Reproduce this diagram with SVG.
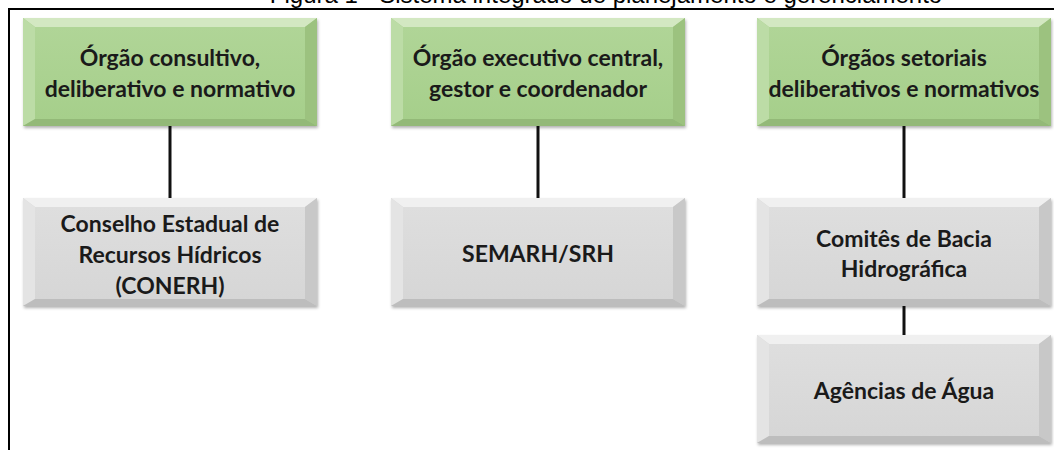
<svg xmlns="http://www.w3.org/2000/svg" xmlns:xlink="http://www.w3.org/1999/xlink" width="1054" height="450" viewBox="0 0 1054 450">
  <defs>
    <style>
      .lbl { font-family: Lato, "Open Sans", "Liberation Sans", sans-serif; font-weight: bold; font-size: 23px; fill: #1a1a1a; text-anchor: middle; dominant-baseline: central; }
      .title { font-family: "Liberation Sans", Arial, sans-serif; font-size: 24px; fill: #000; text-anchor: middle; }
      .conn { stroke: #111; stroke-width: 3; fill: none; }
      .frame { stroke: #000; stroke-width: 2; fill: none; }
    </style>
    <filter id="sh" x="-5%" y="-5%" width="112%" height="120%">
      <feDropShadow dx="1" dy="2" stdDeviation="1.5" flood-color="#000" flood-opacity="0.3"/>
    </filter>
    <linearGradient id="gg" x1="0" y1="0" x2="0" y2="1">
      <stop offset="0" stop-color="#b0d597"/>
      <stop offset="1" stop-color="#a6cf8b"/>
    </linearGradient>
    <linearGradient id="gy" x1="0" y1="0" x2="0" y2="1">
      <stop offset="0" stop-color="#dedede"/>
      <stop offset="1" stop-color="#d6d6d6"/>
    </linearGradient>
    <g id="bevel-green">
      <rect x="0" y="0" width="294" height="108" fill="#a8d08d"/>
      <polygon points="0,0 294,0 282,9 12,9" fill="#d3e8c2"/>
      <polygon points="0,0 12,9 12,101 0,108" fill="#bcdca6"/>
      <polygon points="294,0 294,108 282,101 282,9" fill="#9cc27f"/>
      <polygon points="0,108 12,101 282,101 294,108" fill="#93b978"/>
      <rect x="12" y="9" width="270" height="92" fill="url(#gg)"/>
    </g>
    <g id="bevel-gray">
      <rect x="0" y="0" width="294" height="108" fill="#d8d8d8"/>
      <polygon points="0,0 294,0 282,9 12,9" fill="#f0f0f0"/>
      <polygon points="0,0 12,9 12,101 0,108" fill="#e4e4e4"/>
      <polygon points="294,0 294,108 282,101 282,9" fill="#c8c8c8"/>
      <polygon points="0,108 12,101 282,101 294,108" fill="#bdbdbd"/>
      <rect x="12" y="9" width="270" height="92" fill="url(#gy)"/>
    </g>
  </defs>
  <rect x="0" y="0" width="1054" height="450" fill="#fff"/>
  <text class="title" x="606" y="3">Figura 1 - Sistema integrado de planejamento e gerenciamento</text>
  <path class="frame" d="M9,450 V9 H1054"/>

  <g id="connectors">
    <line class="conn" x1="170" y1="126" x2="170" y2="198"/>
    <line class="conn" x1="538" y1="126" x2="538" y2="198"/>
    <line class="conn" x1="904" y1="126" x2="904" y2="198"/>
    <line class="conn" x1="904" y1="306" x2="904" y2="335"/>
  </g>

  <g id="n-consultivo">
    <use xlink:href="#bevel-green" x="23" y="18" filter="url(#sh)"/>
    <text class="lbl" x="170" y="57">Órgão consultivo,</text>
    <text class="lbl" x="170" y="88">deliberativo e normativo</text>
  </g>
  <g id="n-executivo">
    <use xlink:href="#bevel-green" x="391" y="18" filter="url(#sh)"/>
    <text class="lbl" x="538" y="57">Órgão executivo central,</text>
    <text class="lbl" x="538" y="88">gestor e coordenador</text>
  </g>
  <g id="n-setoriais">
    <use xlink:href="#bevel-green" x="757" y="18" filter="url(#sh)"/>
    <text class="lbl" x="904" y="57">Órgãos setoriais</text>
    <text class="lbl" x="904" y="88">deliberativos e normativos</text>
  </g>
  <g id="n-conerh">
    <use xlink:href="#bevel-gray" x="23" y="198" filter="url(#sh)"/>
    <text class="lbl" x="170" y="223">Conselho Estadual de</text>
    <text class="lbl" x="170" y="254">Recursos Hídricos</text>
    <text class="lbl" x="170" y="285">(CONERH)</text>
  </g>
  <g id="n-semarh">
    <use xlink:href="#bevel-gray" x="391" y="198" filter="url(#sh)"/>
    <text class="lbl" x="538" y="253">SEMARH/SRH</text>
  </g>
  <g id="n-comites">
    <use xlink:href="#bevel-gray" x="757" y="198" filter="url(#sh)"/>
    <text class="lbl" x="904" y="238">Comitês de Bacia</text>
    <text class="lbl" x="904" y="268">Hidrográfica</text>
  </g>
  <g id="n-agencias">
    <use xlink:href="#bevel-gray" x="757" y="335" filter="url(#sh)"/>
    <text class="lbl" x="904" y="390">Agências de Água</text>
  </g>
</svg>
